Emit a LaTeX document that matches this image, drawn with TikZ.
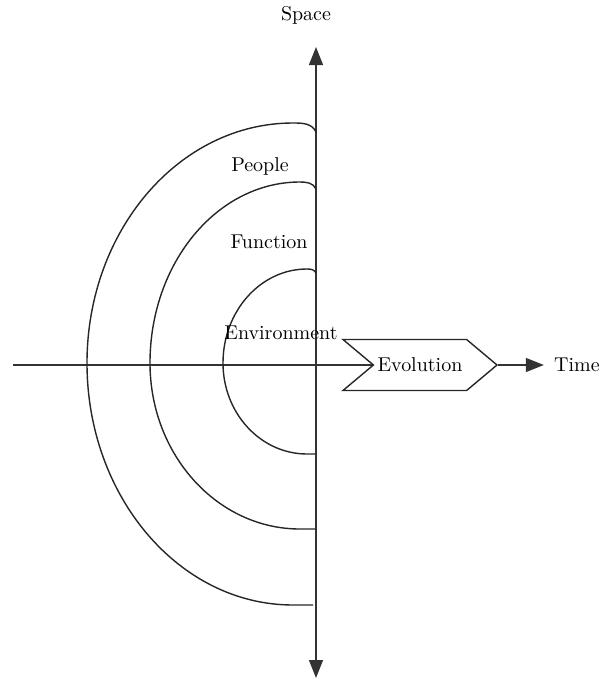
\documentclass[tikz,border=0pt]{standalone}
\usepackage{tikz}
\usetikzlibrary{arrows.meta,shapes.symbols}

\begin{document}
\begin{tikzpicture}[x=0.5pt,y=-0.5pt,
axis/.style={line width=0.7pt,draw=black!80,-{Triangle[length=9pt,width=7pt]}},
ring/.style={line width=0.7pt,draw=black!85},
label/.style={font=\normalsize,inner sep=1pt}]
%\draw[help lines] (0,0) grid (608,680);
\useasboundingbox (0,0) rectangle (608,680);

% axes
\node[label] (space) at (306,15) {Space};
\node[label] (time) at (577,365) {Time};
\node[draw=black!85,line width=0.7pt,shape=signal,signal from=west,signal to=east,
signal pointer angle=80,minimum width=77pt,minimum height=25.5pt,inner sep=0pt] (evo) at (420,365) {Evolution};
\coordinate (left) at (13,365);
\coordinate (top) at (316,47);
\coordinate (bottom) at (316,678);
\coordinate (origin) at (316,365);

\draw[axis] (origin) -- (top);
\draw[axis] (origin) -- (bottom);
\draw[line width=0.7pt,draw=black!80] (left) -- (evo.west);
\draw[axis,shorten >=4pt] (evo.east) -- (time.west);

% half rings
\draw[ring] (316,132) to[out=115,in=0] (293,123)
  arc[start angle=90,end angle=180,x radius=103pt,y radius=120pt]
  arc[start angle=180,end angle=270,x radius=103pt,y radius=121pt] -- (313,605);
\draw[ring] (316,189) to[out=115,in=0] (300,182)
  arc[start angle=90,end angle=180,x radius=75pt,y radius=90.5pt]
  arc[start angle=180,end angle=270,x radius=75pt,y radius=83pt] -- (315,529);
\draw[ring] (316,273) to[out=115,in=0] (307,269)
  arc[start angle=90,end angle=180,x radius=42pt,y radius=47pt]
  arc[start angle=180,end angle=270,x radius=42pt,y radius=45.5pt] -- (315,454);

\node[label] (people) at (260,166) {People};
\node[label] (function) at (269,242) {Function};
\node[label] (environment) at (281,333) {Environment};
\end{tikzpicture}
\end{document}
